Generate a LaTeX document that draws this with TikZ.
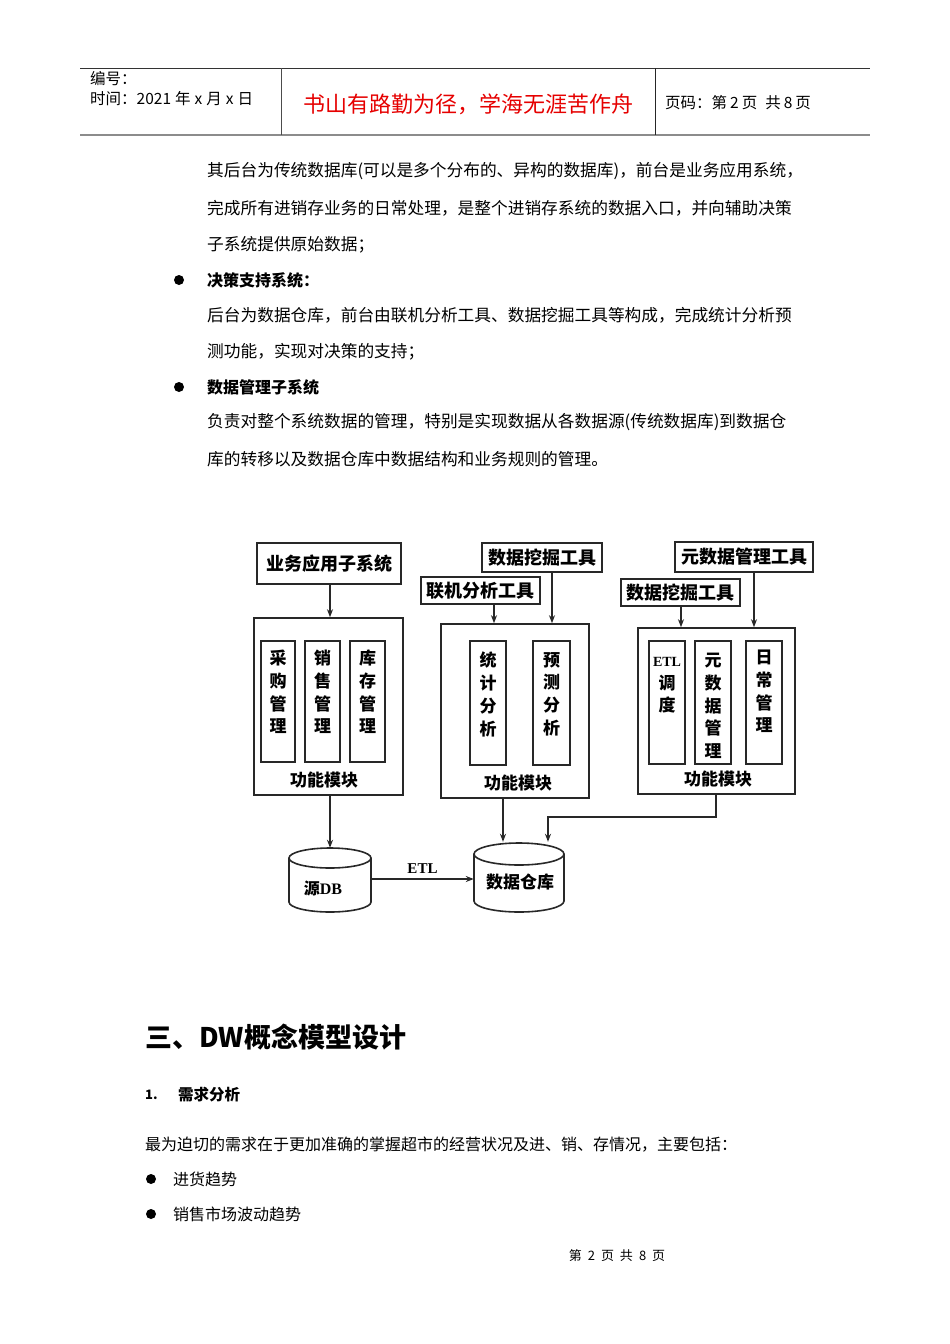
\documentclass[tikz,border=0pt]{standalone}
\usepackage{fontspec}
\setmainfont{Liberation Serif}
\newfontfamily\cjk{Noto Sans CJK SC}
\usetikzlibrary{arrows.meta}
\definecolor{mottored}{RGB}{230,0,0}
\definecolor{boxline}{RGB}{40,40,40}
\newcommand\mycyl[5]{%
  \draw[cylline] ({#1-#4},{#2+#5}) -- ({#1-#4},{#3-#5}) arc[start angle=180,end angle=0,x radius=#4,y radius=#5] -- ({#1+#4},{#2+#5});
  \draw[cylline] (#1,{#2+#5}) ellipse[x radius=#4,y radius=#5];}
\begin{document}
\begin{tikzpicture}[x=1pt,y=-1pt,
  hdr/.style={inner sep=0pt,anchor=west,font=\cjk\fontsize{15.5}{15.5}\selectfont},
  body/.style={inner sep=0pt,anchor=west,font=\cjk\fontsize{16.7}{16.7}\selectfont},
  bodyb/.style={inner sep=0pt,anchor=west,font=\cjk\bfseries\fontsize{16}{16}\selectfont},
  bullet/.style={circle,fill=black,inner sep=0pt,minimum size=10pt},
  tool/.style={draw=boxline,line width=1.6pt,inner sep=0pt,font=\cjk\bfseries\fontsize{18}{18}\selectfont},
  bigbox/.style={draw=boxline,line width=1.6pt,inner sep=0pt},
  inbox/.style={draw=boxline,line width=1.5pt,inner sep=0pt},
  vtext/.style={inner sep=0pt,anchor=north,align=center,font=\cjk\bfseries\fontsize{17}{22.7}\selectfont},
  modlab/.style={inner sep=0pt,font=\cjk\bfseries\fontsize{17}{17}\selectfont},
  arr/.style={draw=boxline,line width=1.4pt,-{Stealth[length=8pt,width=6pt]}},
  cylline/.style={draw=boxline,line width=1.6pt},
  invis/.style={inner sep=0pt}]
\useasboundingbox[fill=white] (0,0) rectangle (950,1344);

% ---------- header ----------
\draw[draw=black!80,line width=0.9pt] (80,68) -- (870,68);
\draw[draw=black!45,line width=2pt] (80,135) -- (870,135);
\draw[draw=black!70,line width=1pt] (281,68) -- (281,135);
\draw[draw=black!85,line width=1pt] (655,68) -- (655,135);
\node[hdr] (bh) at (90,79) {编号：};
\node[hdr] (sj) at (90,99) {时间：2021\hspace{4pt}年\hspace{4pt}x\hspace{4pt}月\hspace{4pt}x\hspace{4pt}日};
\node[inner sep=0pt,text=mottored,font=\cjk\fontsize{22}{22}\selectfont] (motto) at (468,104) {书山有路勤为径，学海无涯苦作舟};
\node[hdr] (ym) at (665,103) {页码：第\hspace{3pt}2\hspace{3pt}页\hspace{8pt}共\hspace{3pt}8\hspace{3pt}页};

% ---------- body text ----------
\node[body] (p1) at (207,171) {其后台为传统数据库(可以是多个分布的、异构的数据库)，前台是业务应用系统，};
\node[body] (p2) at (207,208) {完成所有进销存业务的日常处理，是整个进销存系统的数据入口，并向辅助决策};
\node[body] (p3) at (207,245) {子系统提供原始数据；};
\node[bullet] (b1) at (179,280) {};
\node[bodyb] (h1) at (207,280) {决策支持系统：};
\node[body] (p4) at (207,315) {后台为数据仓库，前台由联机分析工具、数据挖掘工具等构成，完成统计分析预};
\node[body] (p5) at (207,352) {测功能，实现对决策的支持；};
\node[bullet] (b2) at (179,387) {};
\node[bodyb] (h2) at (207,387) {数据管理子系统};
\node[body] (p6) at (207,422) {负责对整个系统数据的管理，特别是实现数据从各数据源(传统数据库)到数据仓};
\node[body] (p7) at (207,459) {库的转移以及数据仓库中数据结构和业务规则的管理。};

% ---------- diagram: left ----------
\node[tool,minimum width=144pt,minimum height=41pt] (biz) at (329,563.5) {业务应用子系统};
\node[bigbox,minimum width=149pt,minimum height=177pt] (lbox) at (328.5,706.5) {};
\node[inbox,minimum width=34pt,minimum height=121pt] (cg) at (278,701.5) {};
\node[inbox,minimum width=35pt,minimum height=121pt] (xs) at (322.5,701.5) {};
\node[inbox,minimum width=35pt,minimum height=121pt] (kc) at (367.5,701.5) {};
\node[vtext] (cgt) at (278,650) {采\\购\\管\\理};
\node[vtext] (xst) at (322.5,650) {销\\售\\管\\理};
\node[vtext] (kct) at (367.5,650) {库\\存\\管\\理};
\node[modlab] (ll) at (324,780) {功能模块};

% ---------- diagram: middle ----------
\node[tool,minimum width=120pt,minimum height=29pt] (wj1) at (542,557.5) {数据挖掘工具};
\node[tool,minimum width=119pt,minimum height=27pt] (lj) at (480.5,590.5) {联机分析工具};
\node[bigbox,minimum width=148pt,minimum height=174pt] (mbox) at (515,711) {};
\node[inbox,minimum width=36pt,minimum height=124pt] (tj) at (488,703) {};
\node[inbox,minimum width=37pt,minimum height=124pt] (yc) at (551.5,703) {};
\node[vtext] (tjt) at (488,652) {统\\计\\分\\析};
\node[vtext] (yct) at (551.5,652) {预\\测\\分\\析};
\node[modlab] (ml) at (518,783) {功能模块};

% ---------- diagram: right ----------
\node[tool,minimum width=138pt,minimum height=30pt] (ysjgl) at (744,557) {元数据管理工具};
\node[tool,minimum width=119pt,minimum height=27pt] (wj2) at (680.5,592.5) {数据挖掘工具};
\node[bigbox,minimum width=157pt,minimum height=166pt] (rbox) at (716.5,711) {};
\node[inbox,minimum width=36pt,minimum height=123pt] (etl) at (667,702.5) {};
\node[inbox,minimum width=36pt,minimum height=123pt] (ysj) at (713,702.5) {};
\node[inbox,minimum width=36pt,minimum height=123pt] (rc) at (764,702.5) {};
\node[vtext] (etlt) at (667,657) {{\rmfamily\fontsize{14}{14}\selectfont ETL}\\调\\度};
\node[vtext] (ysjt) at (713,653) {元\\数\\据\\管\\理};
\node[vtext] (rct) at (764,650) {日\\常\\管\\理};
\node[modlab] (rl) at (718,779) {功能模块};

% ---------- databases ----------
\node[invis,minimum width=82pt,minimum height=64pt] (src) at (330,880) {};
\node[invis,minimum width=90pt,minimum height=69pt] (dw) at (519,877.5) {};
\mycyl{330}{848}{912}{41}{10}
\mycyl{519}{843}{912}{45}{11}
\node[inner sep=0pt,font=\cjk\bfseries\fontsize{16}{16}\selectfont] (srct) at (323,888) {源{\rmfamily DB}};
\node[inner sep=0pt,font=\cjk\bfseries\fontsize{17}{17}\selectfont] (dwt) at (520,882) {数据仓库};

% ---------- connectors ----------
\coordinate (xa) at (494,0);
\coordinate (xb) at (552,0);
\coordinate (xc) at (681,0);
\coordinate (xd) at (754,0);
\coordinate (xe) at (330,0);
\coordinate (xf) at (503,0);
\coordinate (xg) at (716,0);
\coordinate (xh) at (548,0);
\coordinate (ye) at (0,879);
\coordinate (bend1) at (716,817);
\coordinate (bend2) at (548,817);
\draw[arr] (biz.south -| xe) -- (lbox.north -| xe);
\draw[arr] (lj.south -| xa) -- (mbox.north -| xa);
\draw[arr] (wj1.south -| xb) -- (mbox.north -| xb);
\draw[arr] (wj2.south -| xc) -- (rbox.north -| xc);
\draw[arr] (ysjgl.south -| xd) -- (rbox.north -| xd);
\draw[arr] (lbox.south -| xe) -- (src.north);
\draw[arr] (mbox.south -| xf) -- ([yshift=1pt]dw.north -| xf);
\draw[arr] (rbox.south -| xg) -- (bend1) -- (bend2) -- ([yshift=1pt]dw.north -| xh);
\draw[arr] (src.east |- ye) -- node[above=5pt,inner sep=0pt,font=\rmfamily\bfseries\fontsize{15}{15}\selectfont] (etllab) {ETL} (dw.west |- ye);

% ---------- lower text ----------
\node[inner sep=0pt,anchor=west,font=\cjk\bfseries\fontsize{27}{27}\selectfont] (sec) at (145,1037) {三、DW概念模型设计};
\node[inner sep=0pt,anchor=west,font=\cjk\bfseries\fontsize{13}{13}\selectfont] (n1) at (145,1095) {1.};
\node[inner sep=0pt,anchor=west,font=\cjk\bfseries\fontsize{15.5}{15.5}\selectfont] (xq) at (178,1095) {需求分析};
\node[inner sep=0pt,anchor=west,font=\cjk\fontsize{16}{16}\selectfont] (q1) at (145,1145) {最为迫切的需求在于更加准确的掌握超市的经营状况及进、销、存情况，主要包括：};
\node[bullet] (b3) at (151,1179) {};
\node[inner sep=0pt,anchor=west,font=\cjk\fontsize{16}{16}\selectfont] (q2) at (173,1179) {进货趋势};
\node[bullet] (b4) at (151,1214) {};
\node[inner sep=0pt,anchor=west,font=\cjk\fontsize{16}{16}\selectfont] (q3) at (173,1214) {销售市场波动趋势};
\node[inner sep=0pt,font=\cjk\fontsize{13}{13}\selectfont] (ft) at (617,1256) {第\hspace{6pt}2\hspace{6pt}页\hspace{6pt}共\hspace{6pt}8\hspace{6pt}页};
\end{tikzpicture}
\end{document}
